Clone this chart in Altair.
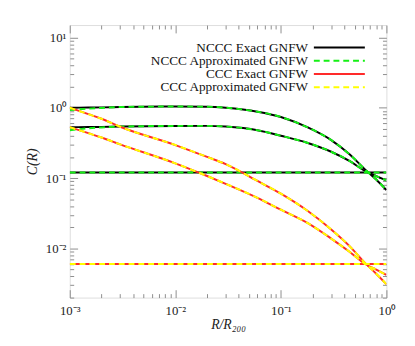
import altair as alt
import pandas as pd

# ---------------- data ----------------
R = [0.001, 0.0015, 0.002, 0.003, 0.01, 0.02, 0.03, 0.06, 0.1, 0.18, 0.3, 0.45, 0.63, 0.8, 1.0]

NCCC_EXACT_1 = [1.0, 1.008, 1.013, 1.025, 1.04, 1.035, 1.0, 0.88, 0.74, 0.525, 0.347, 0.216, 0.132, 0.0955, 0.0676]
NCCC_APPROX_1 = [0.925, 0.97, 0.995, 1.025, 1.04, 1.035, 1.0, 0.88, 0.74, 0.525, 0.347, 0.216, 0.132, 0.0955, 0.0676]
NCCC_EXACT_2 = [0.53, 0.532, 0.535, 0.54, 0.552, 0.553, 0.54, 0.48, 0.40, 0.316, 0.237, 0.174, 0.126, 0.107, 0.093]
NCCC_APPROX_2 = [0.48, 0.51, 0.525, 0.54, 0.552, 0.553, 0.54, 0.48, 0.40, 0.316, 0.237, 0.174, 0.126, 0.107, 0.093]
NCCC_FLAT = 0.12

CCC_EXACT_1 = [1.0, 0.81, 0.697, 0.537, 0.295, 0.20, 0.158, 0.091, 0.060, 0.034, 0.0186, 0.0107, 0.00617, 0.00437, 0.0031]
CCC_APPROX_1 = [1.0, 0.81, 0.697, 0.537, 0.295, 0.20, 0.158, 0.091, 0.060, 0.034, 0.0186, 0.0107, 0.00617, 0.00437, 0.0031]
CCC_EXACT_2 = [0.53, 0.435, 0.378, 0.302, 0.162, 0.107, 0.083, 0.0525, 0.0355, 0.0229, 0.0138, 0.0089, 0.006, 0.005, 0.0042]
CCC_APPROX_2 = [0.53, 0.435, 0.378, 0.302, 0.162, 0.107, 0.083, 0.0525, 0.0355, 0.0229, 0.0138, 0.0089, 0.006, 0.005, 0.0042]
CCC_FLAT = 0.006

LEGEND_LABELS = ["NCCC Exact GNFW", "NCCC Approximated GNFW", "CCC Exact GNFW", "CCC Approximated GNFW"]

X_TICKS = [m * 10.0 ** e for e in (-3, -2, -1) for m in range(1, 10)] + [1.0]
Y_TICKS = [m * 10.0 ** e for e in (-3, -2, -1, 0) for m in range(1, 10)] + [10.0]
Y_TICKS = [v for v in Y_TICKS if v >= 0.002]

# ---------------- long table ----------------
rows = []
def add(group, name, values):
    for r, c in zip(R, values):
        rows.append({"group": group, "curve": name, "R": r, "C": c})

add("nccc_exact", "a", NCCC_EXACT_1)
add("nccc_exact", "b", NCCC_EXACT_2)
add("nccc_exact", "f", [NCCC_FLAT] * len(R))
add("nccc_approx", "a", NCCC_APPROX_1)
add("nccc_approx", "b", NCCC_APPROX_2)
add("nccc_approx", "f", [NCCC_FLAT] * len(R))
add("ccc_exact", "a", CCC_EXACT_1)
add("ccc_exact", "b", CCC_EXACT_2)
add("ccc_exact", "f", [CCC_FLAT] * len(R))
add("ccc_approx", "a", CCC_APPROX_1)
add("ccc_approx", "b", CCC_APPROX_2)
add("ccc_approx", "f", [CCC_FLAT] * len(R))
df = pd.DataFrame(rows)

# ---------------- styling ----------------
W, H = 323, 278
FONT = "Liberation Serif"
GRAY = "#8c8c8c"
BLACK = "#000000"
GREEN = "#14f014"
RED = "#ff2a2a"
YELLOW = "#ffff00"
DASH = [6, 4]

XS = alt.Scale(type="log", domain=[0.001, 1.0], nice=False)
YS = alt.Scale(type="log", domain=[0.002, 15.0], nice=False)

MAJOR = "abs(log(datum.value)/LN10 - round(log(datum.value)/LN10)) < 0.001"
LABEL = (MAJOR + " ? '10' + ['\u207b\u00b3','\u207b\u00b2','\u207b\u00b9','\u2070','\u00b9']"
         "[round(log(datum.value)/LN10)+3] : ''")
TICK_SIZE = {"condition": {"test": MAJOR, "value": 8}, "value": 4}

X_AXIS = alt.Axis(
    values=X_TICKS, labelExpr=LABEL, ticks=False, domain=False, grid=False,
    labelOverlap=False, labelFlush=False, labelFont=FONT, labelFontSize=13,
    labelColor="#222222", labelPadding=7,
    title="R/R\u2082\u2080\u2080", titleFont=FONT, titleFontSize=14,
    titleFontStyle="italic", titleFontWeight="normal", titleColor="#222222",
    titleX=W / 2, titleY=28, titleBaseline="middle", titleAnchor="middle")
Y_AXIS = alt.Axis(
    values=Y_TICKS, labelExpr=LABEL, ticks=False, domain=False, grid=False,
    labelOverlap=False, labelFlush=False, labelFont=FONT, labelFontSize=13,
    labelColor="#222222", labelPadding=4,
    title="C(R)", titleFont=FONT, titleFontSize=14, titleFontStyle="italic",
    titleFontWeight="normal", titleColor="#222222", titleAngle=-90,
    titleX=-38, titleY=H / 2, titleBaseline="middle", titleAlign="center")


def lines(group, color, dash=None, with_axes=False):
    kw = dict(color=color, strokeWidth=2, interpolate="monotone", clip=True)
    if dash:
        kw["strokeDash"] = dash
    return alt.Chart(df).transform_filter(alt.datum.group == group).mark_line(**kw).encode(
        x=alt.X("R:Q", scale=XS, axis=X_AXIS if with_axes else None),
        y=alt.Y("C:Q", scale=YS, axis=Y_AXIS if with_axes else None),
        detail="curve:N",
    )


def tick_layer(x_orient, y_orient):
    return alt.Chart(df).mark_point(opacity=0).encode(
        x=alt.X("R:Q", scale=XS, axis=alt.Axis(
            orient=x_orient, offset=-H, values=X_TICKS, labels=False, domain=False,
            grid=False, tickSize=TICK_SIZE, tickColor=GRAY, tickWidth=1, title=None)),
        y=alt.Y("C:Q", scale=YS, axis=alt.Axis(
            orient=y_orient, offset=-W, values=Y_TICKS, labels=False, domain=False,
            grid=False, tickSize=TICK_SIZE, tickColor=GRAY, tickWidth=1, title=None)),
    )


# ---------------- legend (label left of sample line) ----------------
LEG_STYLE = [(BLACK, None), (GREEN, DASH), (RED, None), (YELLOW, DASH)]
LEG_Y = [23, 36.5, 50, 63.5]
ONE_ROW = "datum.R == 1 && datum.group == 'nccc_exact' && datum.curve == 'a'"
legend_layers = []
for lab, (col, dash), yy in zip(LEGEND_LABELS, LEG_STYLE, LEG_Y):
    legend_layers.append(
        alt.Chart(df).transform_filter(ONE_ROW)
        .mark_text(align="right", baseline="middle", font=FONT, fontSize=13.5, color="#111111")
        .encode(x=alt.value(243), y=alt.value(yy), text=alt.value(lab))
    )
    rule_kwargs = dict(color=col, strokeWidth=2)
    if dash:
        rule_kwargs["strokeDash"] = dash
    legend_layers.append(
        alt.Chart(df).transform_filter(ONE_ROW)
        .mark_rule(**rule_kwargs)
        .encode(x=alt.value(249), x2=alt.value(301), y=alt.value(yy))
    )

chart = alt.layer(
    lines("nccc_exact", BLACK, with_axes=True),
    lines("nccc_approx", GREEN, DASH),
    lines("ccc_exact", RED),
    lines("ccc_approx", YELLOW, DASH),
    tick_layer("top", "right"),
    tick_layer("bottom", "left"),
    *legend_layers,
).resolve_axis(x="independent", y="independent").properties(
    width=W, height=H,
    autosize=alt.AutoSizeParams(type="none"),
    padding={"left": 63, "top": 14, "right": 21, "bottom": 46},
).configure_view(stroke=GRAY, strokeWidth=1.2).configure(background="white", font=FONT)

chart.save("out.html", embed_options={"renderer": "svg", "actions": False})
